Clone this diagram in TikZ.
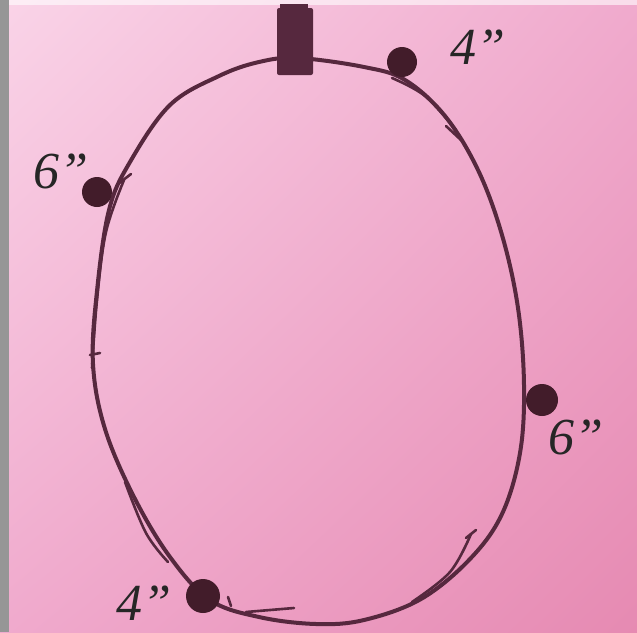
\documentclass[tikz,border=0pt]{standalone}
\usepackage{fontspec}
\setmainfont{Liberation Serif}
\usetikzlibrary{positioning, shadings}
\definecolor{ink}{RGB}{86,40,62}
\definecolor{knotink}{RGB}{66,28,42}
\definecolor{pinktop}{RGB}{250,212,232}
\definecolor{pinkmid}{RGB}{240,170,205}
\definecolor{pinkbot}{RGB}{230,138,178}
\definecolor{edgegray}{RGB}{150,150,150}

\tikzset{
  dot/.style={circle, fill=knotink, inner sep=0pt, minimum size=#1},
  size/.style={font=\fontsize{52}{54}\selectfont\itshape, text=black!85, inner sep=0pt},
  loop/.style={draw=ink, line width=4pt, line cap=round, line join=round},
  retrace/.style={draw=ink, line width=2.6pt, line cap=round}
}

\begin{document}
\begin{tikzpicture}[x=1pt, y=-1pt]
  \useasboundingbox (0,0) rectangle (637,632);
  % paper
  \shade[upper left=pinktop, upper right=pinkmid, lower left=pinkmid, lower right=pinkbot]
    (0,0) rectangle (637,632);
  \fill[white, opacity=0.6] (0,0) rectangle (637,5);
  \fill[edgegray] (0,0) rectangle (9,632);

  % the loop
  \draw[loop] plot[smooth cycle, tension=0.6] coordinates {
    (298,58) (364,67) (405,80) (445,116) (478,170) (502,235) (518,308)
    (524,385) (520,453) (502,514) (470,559) (421,599) (364,620) (316,624)
    (259,617) (210,600) (170,557) (134,497) (105,429) (93,364) (97,291)
    (109,210) (130,162) (170,105) (219,76) (259,62)};

  % second pass of the pen
  \draw[retrace] plot[smooth, tension=0.6] coordinates {(392,78) (425,96) (456,130)};
  \draw[retrace] (446,126) -- (461,140);
  \draw[retrace] plot[smooth, tension=0.6] coordinates {(124,180) (106,232) (97,300) (92,368)};
  \draw[retrace] (118,184) -- (131,174);
  \draw[retrace] (90,355) -- (100,353);
  \draw[retrace] plot[smooth, tension=0.6] coordinates {(125,482) (146,533) (168,562)};
  \draw[retrace] plot[smooth, tension=0.6] coordinates {(471,534) (450,572) (412,602)};
  \draw[retrace] (466,538) -- (476,530);
  \draw[retrace] plot[smooth, tension=0.6] coordinates {(246,612) (270,610) (294,608)};
  \draw[retrace] (228,597) -- (231,606);

  % hook
  \fill[ink] (280,4) rectangle (308,10);
  \fill[ink, rounded corners=2pt] (277,8) rectangle (313,75);

  % knots
  \node[dot=30pt] (knotA) at (402,62) {};
  \node[dot=30pt] (knotB) at (97,192) {};
  \node[dot=32pt] (knotC) at (542,400) {};
  \node[dot=34pt] (knotD) at (203,596) {};

  % spacings
  \node[size] (lblA) at (478,47) {4”};
  \node[size] (lblB) at (61,171) {6”};
  \node[size] (lblC) at (576,437) {6”};
  \node[size] (lblD) at (144,603) {4”};
\end{tikzpicture}
\end{document}
